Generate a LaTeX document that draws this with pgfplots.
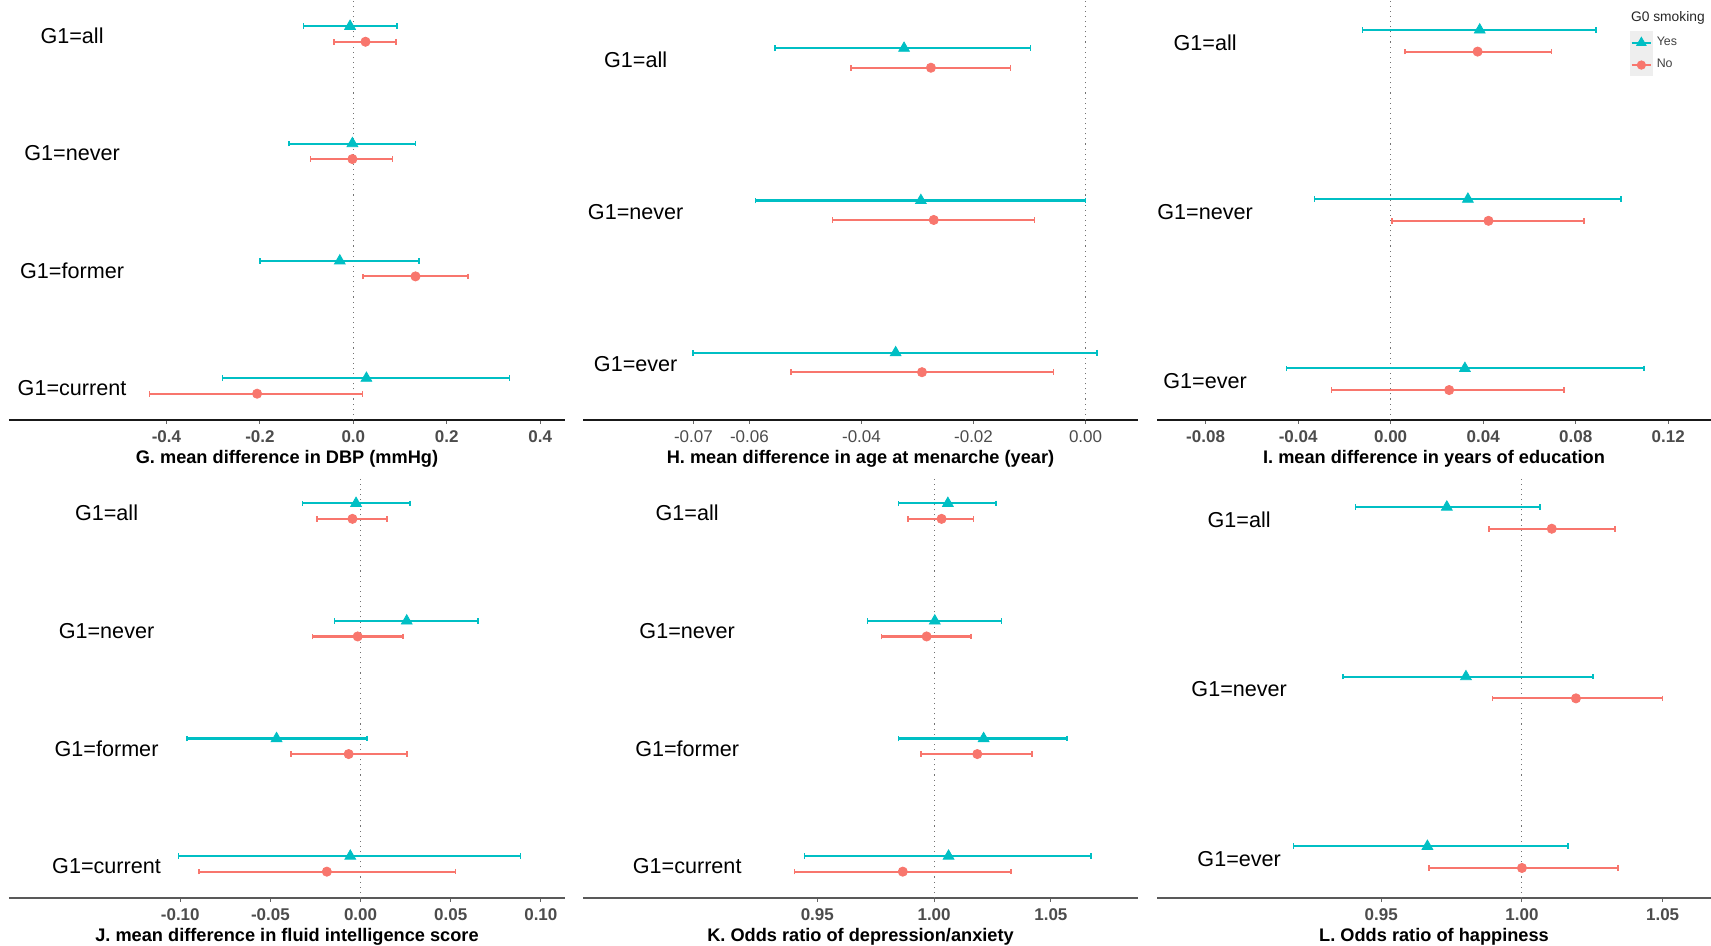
\documentclass[border=0pt]{standalone}
\usepackage{pgfplots}
\pgfplotsset{compat=1.18}
\usepackage{pgfplotstable}
\usepackage{fontspec}
\setmainfont{Liberation Sans}
\definecolor{cYes}{HTML}{00BFC4}
\definecolor{cNo}{HTML}{F8766D}
\definecolor{keybg}{HTML}{EEEEEE}

% ---------------- data: y position, estimate, lower CI, upper CI
\pgfplotstableread{
y est lo hi
4.066 -0.007 -0.107 0.093
3.066 -0.002 -0.138 0.133
2.066 -0.029 -0.200 0.141
1.066 0.028 -0.280 0.334
}\GYes
\pgfplotstableread{
y est lo hi
3.934 0.026 -0.041 0.091
2.934 -0.002 -0.092 0.084
1.934 0.133 0.021 0.245
0.934 -0.206 -0.436 0.020
}\GNo
\pgfplotstableread{
y est lo hi
3.064 -0.0324 -0.0554 -0.0098
2.064 -0.0294 -0.0589 0.0000
1.064 -0.0339 -0.0701 0.0020
}\HYes
\pgfplotstableread{
y est lo hi
2.936 -0.0276 -0.0419 -0.0134
1.936 -0.0271 -0.0452 -0.0091
0.936 -0.0292 -0.0526 -0.0057
}\HNo
\pgfplotstableread{
y est lo hi
3.064 0.0385 -0.0122 0.0889
2.064 0.0334 -0.0329 0.0995
1.064 0.0321 -0.0451 0.1094
}\IYes
\pgfplotstableread{
y est lo hi
2.936 0.0376 0.0061 0.0696
1.936 0.0423 0.0006 0.0836
0.936 0.0253 -0.0256 0.0750
}\INo
\pgfplotstableread{
y est lo hi
4.066 -0.0025 -0.0322 0.0273
3.066 0.0256 -0.0144 0.0652
2.066 -0.0466 -0.0964 0.0037
1.066 -0.0057 -0.1009 0.0888
}\JYes
\pgfplotstableread{
y est lo hi
3.934 -0.0045 -0.0240 0.0148
2.934 -0.0016 -0.0267 0.0236
1.934 -0.0066 -0.0386 0.0256
0.934 -0.0187 -0.0896 0.0527
}\JNo
\pgfplotstableread{
y est lo hi
4.066 1.0059 0.9848 1.0264
3.066 1.0003 0.9715 1.0288
2.066 1.0212 0.9848 1.0568
1.066 1.0062 0.9446 1.0671
}\KYes
\pgfplotstableread{
y est lo hi
3.934 1.0032 0.9889 1.0169
2.934 0.9968 0.9774 1.0157
1.934 1.0185 0.9945 1.0418
0.934 0.9866 0.9402 1.0328
}\KNo
\pgfplotstableread{
y est lo hi
3.064 0.9733 0.9408 1.0064
2.064 0.9801 0.9363 1.0253
1.064 0.9664 0.9188 1.0164
}\LYes
\pgfplotstableread{
y est lo hi
2.936 1.0106 0.9882 1.0331
1.936 1.0192 0.9895 1.0500
0.936 1.0000 0.9669 1.0342
}\LNo

\tikzset{grp/.style={font=\fontsize{10.8}{12}\selectfont, anchor=center, yshift=-1pt}}
\pgfplotsset{
  forest/.style={
    scale only axis, anchor=south west,
    axis x line*=bottom, axis y line=none,
    clip=false, scaled x ticks=false,
    x axis line style={line width=0.6pt, black!90},
    tick align=outside, major tick length=2pt,
    xtick style={black!60, line width=0.5pt},
    xticklabel style={font=\fontsize{8.5}{9}\selectfont\bfseries, text=black!70},
    /pgf/number format/assume math mode=true,
    xlabel style={font=\fontsize{9.1}{10}\selectfont\bfseries, at={(axis description cs:0.5,0)}, anchor=base, yshift=-22pt},
  },
  yesplot/.style={only marks, mark=triangle*, mark size=3.1pt, color=cYes, forget plot,
    /pgfplots/error bars/x dir=both, /pgfplots/error bars/x explicit,
    /pgfplots/error bars/error bar style={line width=1.05pt, cYes},
    /pgfplots/error bars/error mark options={rotate=90, mark size=1.4pt, line width=0.8pt, cYes}},
  noplot/.style={only marks, mark=*, mark size=2.3pt, color=cNo, forget plot,
    /pgfplots/error bars/x dir=both, /pgfplots/error bars/x explicit,
    /pgfplots/error bars/error bar style={line width=1.05pt, cNo},
    /pgfplots/error bars/error mark options={rotate=90, mark size=1.4pt, line width=0.8pt, cNo}},
  refline/.style={dotted, black!55, line width=0.55pt, forget plot},
  table/ci/.style={x=est, y=y, x error plus expr=\thisrow{hi}-\thisrow{est}, x error minus expr=\thisrow{est}-\thisrow{lo}},
}

\begin{document}
\begin{tikzpicture}
\useasboundingbox (0,0) rectangle (855.5pt,473pt);

% ---------------- G
\begin{axis}[forest, at={(4.5pt,263pt)}, width=278pt, height=210pt,
  xmin=-0.737, xmax=0.453, ymin=0.71, ymax=4.29,
  xtick={-0.4,-0.2,0,0.2,0.4}, xticklabels={-0.4,-0.2,0.0,0.2,0.4},
  xlabel={G. mean difference in DBP (mmHg)}]
\addplot[refline] coordinates {(0,0.71) (0,4.29)};
\addplot[yesplot] table[ci] {\GYes};
\addplot[noplot] table[ci] {\GNo};
\node[grp] at (axis cs:-0.602,4) {G1=all};
\node[grp] at (axis cs:-0.602,3) {G1=never};
\node[grp] at (axis cs:-0.602,2) {G1=former};
\node[grp] at (axis cs:-0.602,1) {G1=current};
\end{axis}

% ---------------- H
\begin{axis}[forest, at={(291.5pt,263pt)}, width=277.5pt, height=210pt,
  xmin=-0.0897, xmax=0.00936, ymin=0.622, ymax=3.381,
  xtick={-0.07,-0.06,-0.04,-0.02,0}, xticklabels={-0.07,-0.06,-0.04,-0.02,0.00},
  xticklabel style={font=\fontsize{8.5}{9}\selectfont\mdseries},
  xlabel={H. mean difference in age at menarche (year)}]
\addplot[refline] coordinates {(0,0.622) (0,3.381)};
\addplot[yesplot] table[ci] {\HYes};
\addplot[noplot] table[ci] {\HNo};
\node[grp] at (axis cs:-0.0803,3) {G1=all};
\node[grp] at (axis cs:-0.0803,2) {G1=never};
\node[grp] at (axis cs:-0.0803,1) {G1=ever};
\end{axis}

% ---------------- I
\begin{axis}[forest, at={(578.5pt,263pt)}, width=277pt, height=210pt,
  xmin=-0.101, xmax=0.1385, ymin=0.759, ymax=3.241,
  xtick={-0.08,-0.04,0,0.04,0.08,0.12}, xticklabels={-0.08,-0.04,0.00,0.04,0.08,0.12},
  xlabel={I. mean difference in years of education},
  legend style={at={(rel axis cs:0.853,0.926)}, anchor=north west, draw=none, fill=none,
    inner sep=0pt, row sep=0pt, font=\fontsize{6.2}{7}\selectfont, text=black!75,
    cells={anchor=west}}]
\addplot[refline] coordinates {(0,0.759) (0,3.241)};
\addplot[yesplot] table[ci] {\IYes};
\addplot[noplot] table[ci] {\INo};
\node[grp] at (axis cs:-0.0802,3) {G1=all};
\node[grp] at (axis cs:-0.0802,2) {G1=never};
\node[grp] at (axis cs:-0.0802,1) {G1=ever};
\addlegendimage{legend image code/.code={
  \fill[keybg] (0pt,-5.4pt) rectangle (11pt,5.4pt);
  \draw[cYes, line width=1pt] (0.6pt,0pt) -- (10.4pt,0pt);
  \draw[cYes] plot[only marks, mark=triangle*, mark size=2.7pt] coordinates {(5.5pt,0pt)};}}
\addlegendentry{Yes}
\addlegendimage{legend image code/.code={
  \fill[keybg] (0pt,-5.4pt) rectangle (11pt,5.4pt);
  \draw[cNo, line width=1pt] (0.6pt,0pt) -- (10.4pt,0pt);
  \draw[cNo] plot[only marks, mark=*, mark size=2.1pt] coordinates {(5.5pt,0pt)};}}
\addlegendentry{No}
\node[anchor=west, font=\fontsize{6.9}{8}\selectfont, text=black!85, inner sep=0pt] at (rel axis cs:0.855,0.958) {G0 smoking};
\end{axis}

% ---------------- J
\begin{axis}[forest, at={(4.5pt,24pt)}, width=278pt, height=210.5pt,
  x axis line style={black!65},
  xmin=-0.195, xmax=0.1134, ymin=0.71, ymax=4.29,
  xtick={-0.1,-0.05,0,0.05,0.1}, xticklabels={-0.10,-0.05,0.00,0.05,0.10},
  xlabel={J. mean difference in fluid intelligence score}]
\addplot[refline] coordinates {(0,0.71) (0,4.29)};
\addplot[yesplot] table[ci] {\JYes};
\addplot[noplot] table[ci] {\JNo};
\node[grp] at (axis cs:-0.1409,4) {G1=all};
\node[grp] at (axis cs:-0.1409,3) {G1=never};
\node[grp] at (axis cs:-0.1409,2) {G1=former};
\node[grp] at (axis cs:-0.1409,1) {G1=current};
\end{axis}

% ---------------- K
\begin{axis}[forest, at={(291.5pt,24pt)}, width=277.5pt, height=210.5pt,
  x axis line style={black!65},
  xmin=0.8497, xmax=1.0873, ymin=0.71, ymax=4.29,
  xtick={0.95,1,1.05}, xticklabels={0.95,1.00,1.05},
  xlabel={K. Odds ratio of depression/anxiety}]
\addplot[refline] coordinates {(1,0.71) (1,4.29)};
\addplot[yesplot] table[ci] {\KYes};
\addplot[noplot] table[ci] {\KNo};
\node[grp] at (axis cs:0.8943,4) {G1=all};
\node[grp] at (axis cs:0.8943,3) {G1=never};
\node[grp] at (axis cs:0.8943,2) {G1=former};
\node[grp] at (axis cs:0.8943,1) {G1=current};
\end{axis}

% ---------------- L
\begin{axis}[forest, at={(578.5pt,24pt)}, width=277pt, height=210.5pt,
  x axis line style={black!65},
  xmin=0.8703, xmax=1.0672, ymin=0.759, ymax=3.241,
  xtick={0.95,1,1.05}, xticklabels={0.95,1.00,1.05},
  xlabel={L. Odds ratio of happiness}]
\addplot[refline] coordinates {(1,0.759) (1,3.241)};
\addplot[yesplot] table[ci] {\LYes};
\addplot[noplot] table[ci] {\LNo};
\node[grp] at (axis cs:0.8995,3) {G1=all};
\node[grp] at (axis cs:0.8995,2) {G1=never};
\node[grp] at (axis cs:0.8995,1) {G1=ever};
\end{axis}
\end{tikzpicture}
\end{document}
